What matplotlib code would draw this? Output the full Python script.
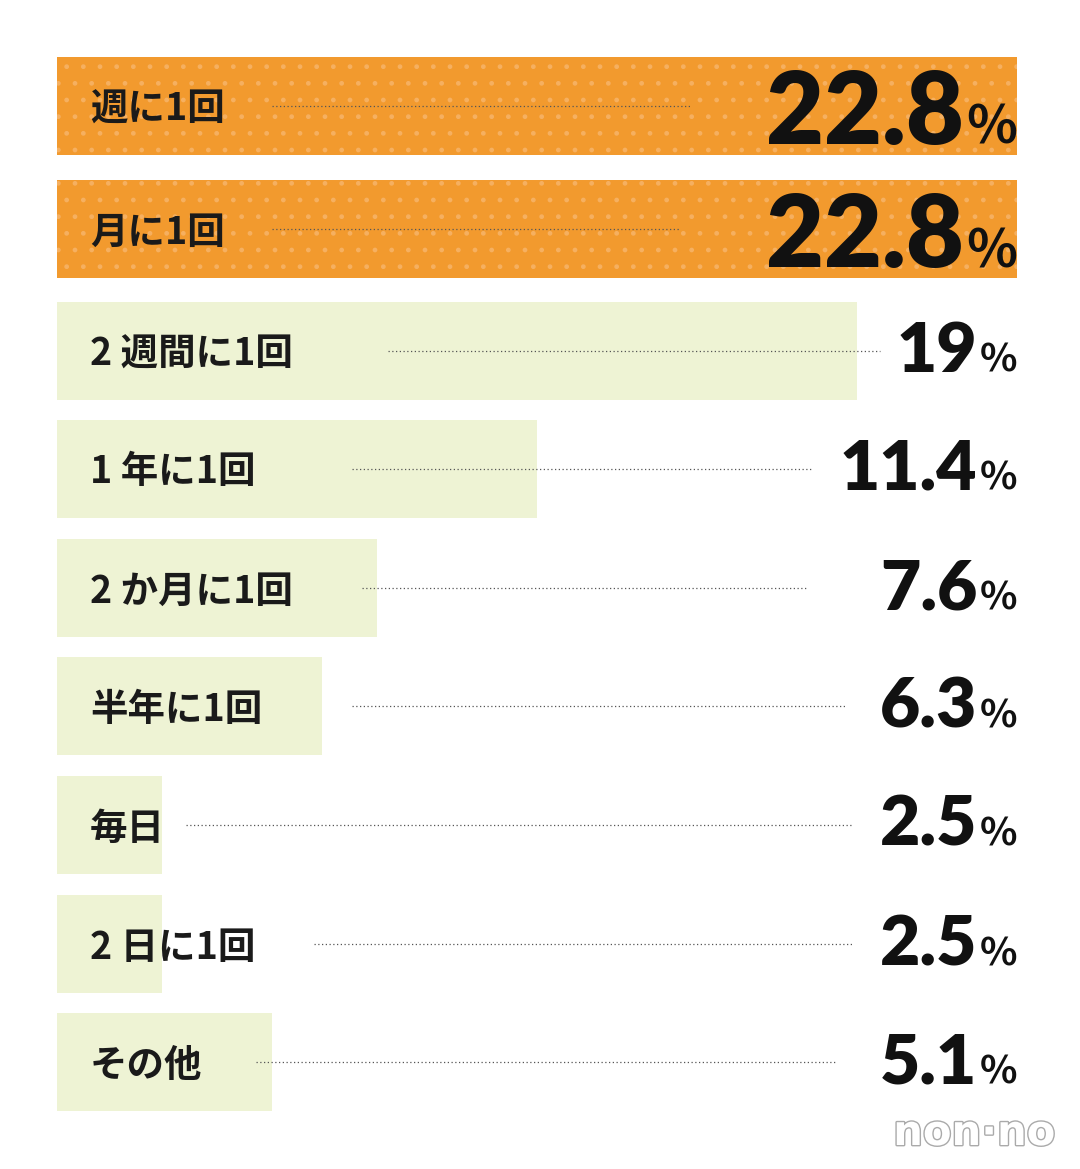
import matplotlib.pyplot as plt
import matplotlib.patheffects as pe

labels = ['週に1回', '月に1回', '2 週間に1回', '1 年に1回', '2 か月に1回',
          '半年に1回', '毎日', '2 日に1回', 'その他']
values = [22.8, 22.8, 19, 11.4, 7.6, 6.3, 2.5, 2.5, 5.1]
value_text = ['22.8', '22.8', '19', '11.4', '7.6', '6.3', '2.5', '2.5', '5.1']
highlight = [True, True, False, False, False, False, False, False, False]
# row centres and dotted leader lines, pixel layout
row_y = [106, 229, 351, 469, 588, 706, 825, 944, 1062]
dot_start = [272, 272, 388, 352, 362, 352, 186, 314, 256]
dot_end = [690, 680, 880, 812, 806, 845, 852, 852, 836]

W, H = 1080, 1169
px_per = 960 / 22.8
x0 = 57

fig = plt.figure(figsize=(W / 100, H / 100), dpi=100)
ax = fig.add_axes([0, 0, 1, 1])
ax.set_xlim(-x0 / px_per, (W - x0) / px_per)
ax.set_ylim(H, 0)
ax.axis('off')

orange = '#F29A2E'
green = '#EEF3D4'
cjk = 'Noto Sans CJK JP'
num = 'Lato'

fig.canvas.draw()
r = fig.canvas.get_renderer()

for i, (lab, v) in enumerate(zip(labels, values)):
    yc = row_y[i]
    if highlight[i]:
        ax.barh(yc, v, height=98, color=orange, hatch='.', edgecolor='#F6B060', linewidth=0)
        big, pct = 72, 38
        base = yc + 38
    else:
        ax.barh(yc, v, height=98, color=green, linewidth=0)
        big, pct = 50, 28
        base = yc + 21
    ax.text((90 - x0) / px_per, yc + 3, lab, fontsize=27, fontfamily=cjk, fontweight='bold',
            va='center', ha='left', color='#1a1a1a')
    ax.plot([(dot_start[i] - x0) / px_per, (dot_end[i] - x0) / px_per], [yc, yc],
            ls=(0, (1, 2)), lw=0.9, color='#555555')
    t = ax.text((1017 - x0) / px_per, base, '%', fontsize=pct, fontfamily=cjk,
                fontweight='bold', ha='right', va='baseline', color='#111111')
    bb = t.get_window_extent(r)
    ax.text((bb.x0 - 2 - x0) / px_per, base, value_text[i], fontsize=big,
            fontfamily=num, fontweight='black', ha='right', va='baseline', color='#111111')

ax.text((1055 - x0) / px_per, 1133, 'non·no', fontsize=30, fontfamily='DejaVu Sans',
        ha='right', va='center', color='white', fontweight='bold',
        path_effects=[pe.withStroke(linewidth=2, foreground='#aaaaaa')])

fig.savefig('out.png', dpi=100)
